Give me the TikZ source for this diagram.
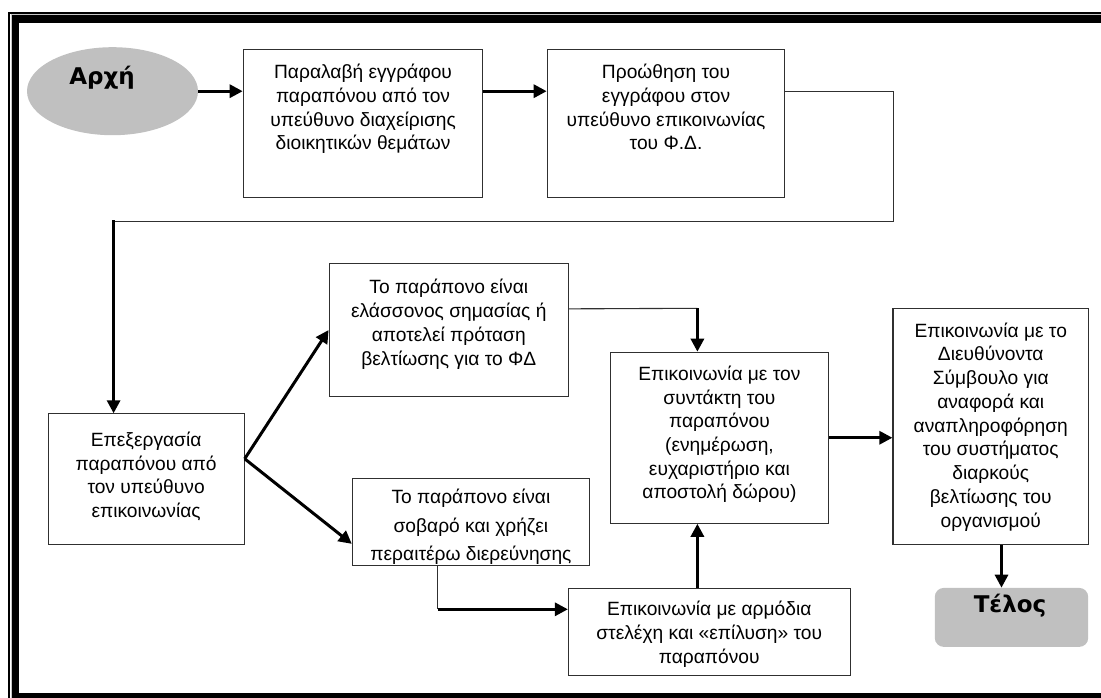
\documentclass[tikz,border=0pt]{standalone}
\usepackage{fontspec}
\setmainfont{Liberation Sans}
\newfontfamily\hdfont{DejaVu Sans}
\usetikzlibrary{arrows.meta,shapes.geometric,calc}
\definecolor{lg}{HTML}{C0C0C0}
\definecolor{bl}{HTML}{303030}
\newcommand{\bxt}[5]{\parbox[c][#2][t]{#1}{\fontsize{19.2pt}{#4}\selectfont\centering\vspace*{#3}\strut #5\par}}
\begin{document}
\begin{tikzpicture}[x=1pt,y=-1pt,
  box/.style={draw=bl, line width=1.1pt, inner sep=0pt, anchor=north west},
  ln/.style={draw=bl, line width=1.1pt},
  arr/.style={draw=black, line width=3pt, -{Triangle[length=13pt,width=13pt]}},
  hd/.style={font=\hdfont\bfseries\fontsize{23pt}{27pt}\selectfont, inner sep=0pt, anchor=base}]
\useasboundingbox (0,0) rectangle (1101,698);
\fill[white] (0,0) rectangle (1101,698);
% frame (its right side lies outside the picture)
\draw[black, line width=1.6pt] (9,698) -- (9,13) -- (1101,13);
\draw[gray!45, line width=1pt] (11,698) -- (11,14.5) -- (1101,14.5);
\fill[black] (12.2,15.2) rectangle (1101,23.4);
\fill[black] (12.2,15.2) rectangle (19.2,698);
\fill[black] (12.2,693.2) rectangle (1101,698);

% start and end
\node[ellipse, fill=lg, minimum width=171pt, minimum height=88pt, inner sep=0pt] (st) at (112.5,91.2) {};
\node[hd] (stt) at (102,85) {Αρχή};
\node[fill=lg, rounded corners=9pt, minimum width=153.4pt, minimum height=59pt, inner sep=0pt, anchor=north west] (en) at (934.6,587.7) {};
\node[hd] (ent) at (1010,612.5) {Τέλος};

% boxes
\node[box] (b1) at (242.7,49) {\bxt{239.6pt}{147.7pt}{12.6pt}{23.7pt}{Παραλαβή εγγράφου\\ παραπόνου από τον\\ υπεύθυνο διαχείρισης\\ διοικητικών θεμάτων}};
\node[box] (b2) at (546.7,49) {\bxt{237.6pt}{147.7pt}{12.6pt}{23.7pt}{Προώθηση του\\ εγγράφου στον\\ υπεύθυνο επικοινωνίας\\ του Φ.Δ.}};
\node[box] (b3) at (47.5,413.3) {\bxt{196.1pt}{130.7pt}{16.6pt}{23.4pt}{Επεξεργασία\\ παραπόνου από\\ τον υπεύθυνο\\ επικοινωνίας}};
\node[box] (b4) at (328.6,263.3) {\bxt{239.3pt}{132.4pt}{13.3pt}{23.8pt}{Το παράπονο είναι\\ ελάσσονος σημασίας ή\\ αποτελεί πρόταση\\ βελτίωσης για το ΦΔ}};
\node[box] (b5) at (351.8,478.3) {\bxt{237.2pt}{86.7pt}{5.1pt}{28.3pt}{Το παράπονο είναι\\ σοβαρό και χρήζει\\ περαιτέρω διερεύνησης}};
\node[box] (b6) at (609.8,351.7) {\bxt{218.2pt}{171pt}{11.5pt}{23.7pt}{Επικοινωνία με τον\\ συντάκτη του\\ παραπόνου\\ (ενημέρωση,\\ ευχαριστήριο και\\ αποστολή δώρου)}};
\node[box] (b7) at (567.9,587.7) {\bxt{281.6pt}{87.3pt}{10.2pt}{24.2pt}{Επικοινωνία με αρμόδια\\ στελέχη και «επίλυση» του\\ παραπόνου}};
\node[box] (b8) at (892.4,307.7) {\bxt{195.6pt}{236.3pt}{12.2pt}{23.75pt}{Επικοινωνία με το\\ Διευθύνοντα\\ Σύμβουλο για\\ αναφορά και\\ αναπληροφόρηση\\ του συστήματος\\ διαρκούς\\ βελτίωσης του\\ οργανισμού}};

% bend points
\coordinate (c1) at (893.3,221.7);
\coordinate (c2) at (113.6,221.7);
\coordinate (c3) at (697.4,308.3);
\coordinate (c4) at (437.5,609.3);
\coordinate (c5) at (1001.5,566);
\coordinate (s3) at ([yshift=20.4pt]b3.east);

% connectors
\draw[arr] (st.east) -- (st.east -| b1.west);
\draw[arr] (st.east -| b1.east) -- (st.east -| b2.west);
\draw[ln] (st.east -| b2.east) -- (st.east -| c1) -- (c1) -- (c2);
\draw[arr] ([yshift=1.5pt]c2) -- (c2 |- b3.north);
\draw[arr] (s3) -- (b4.west);
\draw[arr] (s3) -- ([yshift=-21.65pt]b5.west);
\draw[ln] ([yshift=21.2pt]b4.east) -- (c3);
\draw[arr] (c3) -- (c3 |- b6.north);
\draw[ln] (c4 |- b5.south) -- (c4);
\draw[arr] (c4) -- (c4 -| b7.west);
\draw[arr] (c3 |- b7.north) -- (c3 |- b6.south);
\draw[arr] (b6.east) -- (b6.east -| b8.west);
\draw[arr] (c5 |- b8.south) -- (c5 |- en.north);
\end{tikzpicture}
\end{document}
